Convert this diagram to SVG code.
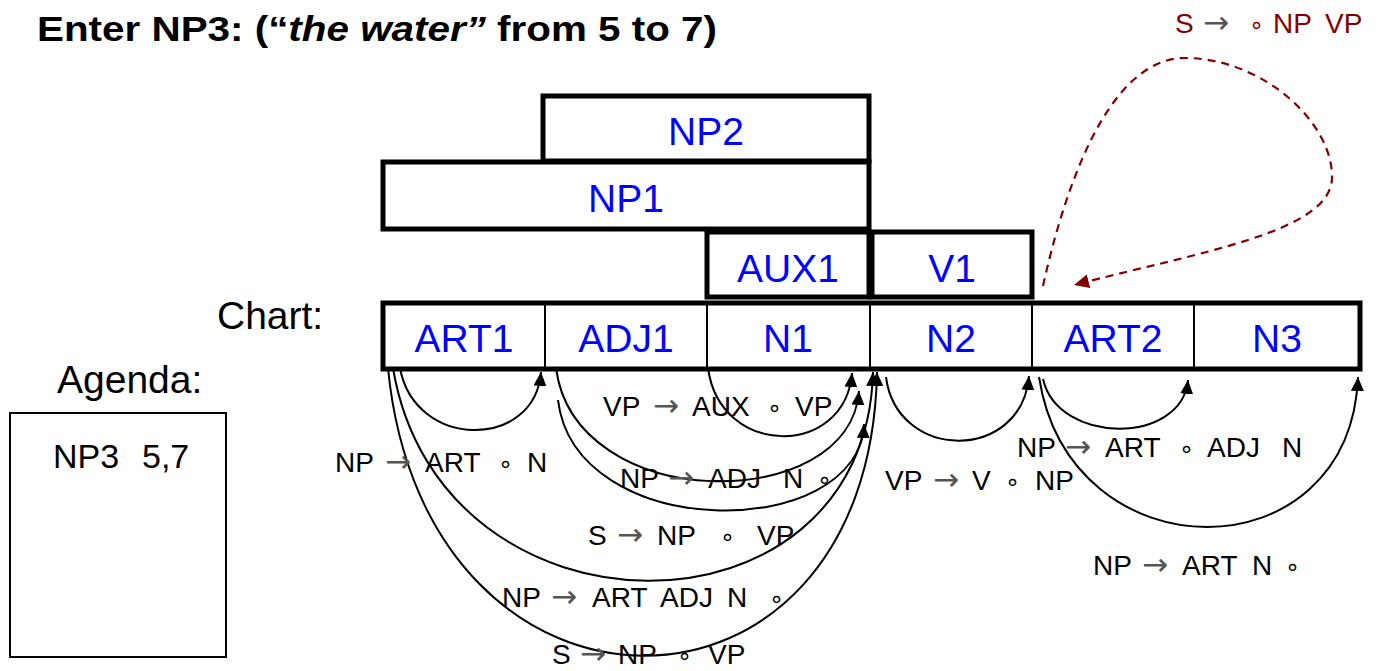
<svg xmlns="http://www.w3.org/2000/svg" width="1384" height="671" viewBox="0 0 1384 671">
<style>
.box{fill:#fff;stroke:#000;stroke-width:5}
.div{stroke:#000;stroke-width:2}
.lbl{font-family:"Liberation Sans",Arial,sans-serif;font-size:39px;fill:#0000ff;text-anchor:middle}
.big{font-family:"Liberation Sans",Arial,sans-serif;font-size:39px;fill:#000}
.r{font-family:"Liberation Sans",Arial,sans-serif;font-size:28px;fill:#000}
.ar{font-family:"DejaVu Sans",sans-serif;font-size:31px;fill:#555}
.ring{font-family:"DejaVu Sans",sans-serif;font-size:24px}
.arc{fill:none;stroke:#000;stroke-width:2;marker-end:url(#ah)}
</style>
<defs>
<marker id="ah" markerUnits="userSpaceOnUse" markerWidth="15" markerHeight="13" refX="14" refY="6.5" orient="auto">
<path d="M0,0 L14,6.5 L0,13 Z" fill="#000"/>
</marker>
<marker id="ahr" markerUnits="userSpaceOnUse" markerWidth="16" markerHeight="14" refX="15" refY="7" orient="auto">
<path d="M0,0 L15,7 L0,14 Z" fill="#800000"/>
</marker>
</defs>
<rect width="1384" height="671" fill="#fff"/>

<text x="37" y="41" font-family="'Liberation Sans',Arial,sans-serif" font-size="35" font-weight="bold" textLength="680" lengthAdjust="spacingAndGlyphs">Enter NP3: (“<tspan font-style="italic">the water”</tspan> from 5 to 7)</text>

<g id="upper-edges">
<g id="np2"><rect class="box" x="543" y="96" width="326" height="65"/><text class="lbl" x="706" y="145">NP2</text></g>
<g id="np1"><rect class="box" x="383" y="162" width="486" height="67"/><text class="lbl" x="626" y="212">NP1</text></g>
<g id="aux1"><rect class="box" x="707" y="232" width="162" height="65"/><text class="lbl" x="788" y="282">AUX1</text></g>
<g id="v1"><rect class="box" x="872" y="232" width="160" height="65"/><text class="lbl" x="952" y="282">V1</text></g>
</g>

<g id="chart">
<rect class="box" x="383" y="303" width="977" height="66"/>
<line class="div" x1="545" y1="305" x2="545" y2="367"/>
<line class="div" x1="707" y1="305" x2="707" y2="367"/>
<line class="div" x1="870" y1="305" x2="870" y2="367"/>
<line class="div" x1="1032" y1="305" x2="1032" y2="367"/>
<line class="div" x1="1194" y1="305" x2="1194" y2="367"/>
<g id="art1"><text class="lbl" x="464" y="352">ART1</text></g>
<g id="adj1"><text class="lbl" x="626" y="352">ADJ1</text></g>
<g id="n1"><text class="lbl" x="788" y="352">N1</text></g>
<g id="n2"><text class="lbl" x="951" y="352">N2</text></g>
<g id="art2"><text class="lbl" x="1113" y="352">ART2</text></g>
<g id="n3"><text class="lbl" x="1277" y="352">N3</text></g>
</g>

<text class="big" x="217" y="329">Chart:</text>
<text class="big" x="57" y="393">Agenda:</text>
<g id="agenda">
<rect x="10" y="413" width="216" height="244" fill="#fff" stroke="#000" stroke-width="2"/>
<text font-family="'Liberation Sans',Arial,sans-serif" font-size="34" x="53" y="468">NP3<tspan x="142">5,7</tspan></text>
</g>

<g id="connectors">
<path class="arc" d="M400,368 C415,450 535,450 541,372"/>
<path class="arc" d="M708,368 C720,458 845,458 852,373"/>
<path class="arc" d="M556,368 C575,515 850,515 859,391"/>
<path class="arc" d="M558,400 C575,543 858,543 864,424"/>
<path class="arc" d="M393,368 C440,651 866,651 873,372"/>
<path class="arc" d="M388,368 C425,751 870,751 877,372"/>
<path class="arc" d="M886,377 C897,462 1022,462 1029,376"/>
<path class="arc" d="M1043,379 C1058,445 1182,445 1188,380"/>
<path class="arc" d="M1039,377 C1070,577 1350,577 1358,377"/>
<path d="M1043,286 C1062,200 1105,58 1185,58 C1262,58 1333,122 1332,178 C1331,232 1200,252 1074,285" fill="none" stroke="#800000" stroke-width="2.2" stroke-dasharray="8,6" marker-end="url(#ahr)"/>
</g>

<g id="labels" class="r">
<text y="472"><tspan x="335">NP</tspan><tspan class="ar" x="385">→</tspan><tspan x="425">ART</tspan><tspan class="ring" x="498">∘</tspan><tspan x="527">N</tspan></text>
<text y="416"><tspan x="603">VP</tspan><tspan class="ar" x="653">→</tspan><tspan x="692">AUX</tspan><tspan class="ring" x="767">∘</tspan><tspan x="795">VP</tspan></text>
<text y="488"><tspan x="620">NP</tspan><tspan class="ar" x="668">→</tspan><tspan x="708">ADJ</tspan><tspan x="783">N</tspan><tspan class="ring" x="817">∘</tspan></text>
<text y="545"><tspan x="588">S</tspan><tspan class="ar" x="617">→</tspan><tspan x="657">NP</tspan><tspan class="ring" x="720">∘</tspan><tspan x="757">VP</tspan></text>
<text y="607"><tspan x="502">NP</tspan><tspan class="ar" x="551">→</tspan><tspan x="592">ART</tspan><tspan x="660">ADJ</tspan><tspan x="727">N</tspan><tspan class="ring" x="769">∘</tspan></text>
<text y="664"><tspan x="552">S</tspan><tspan class="ar" x="580">→</tspan><tspan x="618">NP</tspan><tspan class="ring" x="677">∘</tspan><tspan x="708">VP</tspan></text>
<text y="490"><tspan x="885">VP</tspan><tspan class="ar" x="933">→</tspan><tspan x="972">V</tspan><tspan class="ring" x="1005">∘</tspan><tspan x="1035">NP</tspan></text>
<text y="457"><tspan x="1017">NP</tspan><tspan class="ar" x="1065">→</tspan><tspan x="1105">ART</tspan><tspan class="ring" x="1179">∘</tspan><tspan x="1207">ADJ</tspan><tspan x="1282">N</tspan></text>
<text y="575"><tspan x="1093">NP</tspan><tspan class="ar" x="1142">→</tspan><tspan x="1182">ART</tspan><tspan x="1252">N</tspan><tspan class="ring" x="1285">∘</tspan></text>
<text y="33" fill="#800000"><tspan x="1175">S</tspan><tspan class="ar" x="1203" fill="#b05050">→</tspan><tspan class="ring" x="1249">∘</tspan><tspan x="1273">NP</tspan><tspan x="1325">VP</tspan></text>
</g>
</svg>
